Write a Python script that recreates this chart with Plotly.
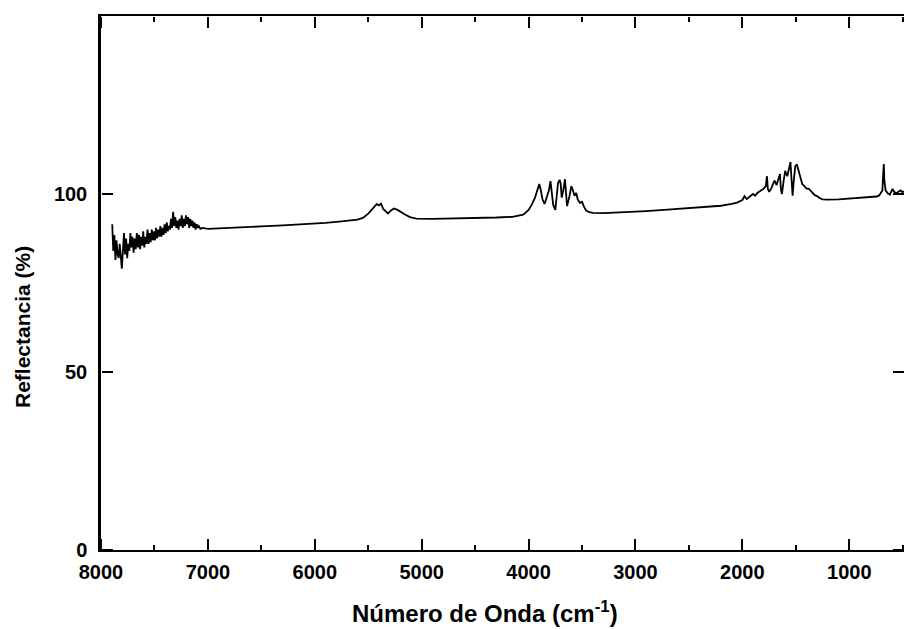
import plotly.graph_objects as go

# Reflectance spectrum: wavenumber (cm^-1) and reflectance (%)
wavenumber = [
    7895, 7885, 7875, 7865, 7855, 7845, 7835, 7825, 7815, 7805,
    7795, 7785, 7775, 7765, 7755, 7745, 7735, 7725, 7715, 7705,
    7695, 7685, 7675, 7665, 7655, 7645, 7635, 7625, 7615, 7605,
    7595, 7585, 7575, 7565, 7555, 7545, 7535, 7525, 7515, 7505,
    7495, 7485, 7475, 7465, 7455, 7445, 7435, 7425, 7415, 7405,
    7395, 7385, 7375, 7365, 7355, 7345, 7335, 7325, 7315, 7305,
    7295, 7285, 7275, 7265, 7255, 7245, 7235, 7225, 7215, 7205,
    7195, 7185, 7175, 7165, 7155, 7145, 7135, 7125, 7115, 7105,
    7095, 7085, 7070, 7050, 7000,
    6900, 6700, 6500, 6300, 6100, 5900, 5750, 5600, 5550, 5500,
    5450, 5420, 5400, 5380, 5360, 5340, 5315, 5290, 5260, 5230,
    5200, 5160, 5110, 5050, 4900, 4700, 4500, 4300, 4150, 4050,
    4000, 3970, 3940, 3920, 3900, 3885, 3870, 3850, 3830, 3810,
    3795, 3785, 3770, 3750, 3740, 3725, 3710, 3700, 3690, 3675,
    3660, 3650, 3640, 3620, 3600, 3585, 3570, 3555, 3540, 3520,
    3500, 3480, 3460, 3430, 3400, 3300, 3100, 2900, 2700, 2500,
    2300, 2200, 2100, 2050, 2000, 1980, 1960, 1930, 1900, 1880,
    1860, 1830, 1800, 1780, 1770, 1762, 1750, 1730, 1715, 1700,
    1680, 1660, 1648, 1640, 1630, 1615, 1600, 1580, 1560, 1550,
    1540, 1530, 1520, 1505, 1490, 1475, 1460, 1440, 1420, 1400,
    1380, 1360, 1340, 1320, 1300, 1280, 1250, 1200, 1100, 1000,
    900, 800, 745, 720, 690, 682, 677, 672, 667, 660,
    640, 620, 610, 595, 580, 560, 540, 520, 500, 488,
]
reflectance = [
    91.5, 84.0, 88.5, 81.5, 87.0, 83.0, 82.0, 86.0, 82.5, 79.0,
    84.0, 89.0, 83.0, 87.5, 82.0, 86.0, 84.0, 89.0, 85.0, 88.0,
    83.5, 87.5, 84.5, 89.0, 85.0, 88.5, 84.5, 88.0, 85.5, 89.5,
    85.0, 88.0, 86.0, 90.0, 86.0, 89.0, 86.5, 90.0, 87.0, 89.5,
    87.0, 90.5, 87.5, 90.0, 88.0, 91.0, 88.0, 90.5, 88.5, 91.5,
    89.0, 92.0, 89.5, 91.0, 90.0, 93.0, 90.5, 95.0, 91.0, 93.5,
    90.5, 92.5, 90.0, 93.0, 91.0, 94.0, 90.5, 93.0, 91.0, 94.0,
    91.5, 93.5, 90.5, 93.0, 91.0, 92.5, 90.5, 92.0, 90.0, 91.5,
    90.5, 91.0, 90.2, 90.5, 90.2,
    90.3, 90.6, 90.9, 91.2, 91.5, 91.9, 92.3, 92.8, 93.3, 94.5,
    96.2, 97.2, 96.8, 97.3, 95.8, 95.2, 94.5, 95.3, 95.9, 95.6,
    95.0, 94.3, 93.5, 93.1, 93.0, 93.1, 93.2, 93.4, 93.6, 94.2,
    95.5, 97.0, 99.0, 101.0, 102.8, 101.0, 98.5, 97.2, 99.5, 101.0,
    103.6, 100.0, 97.0, 95.5, 99.0, 103.0, 104.0, 103.0, 99.0, 101.0,
    104.2, 100.0, 96.6, 99.0, 102.2, 101.0, 99.5, 100.3, 98.5, 97.5,
    97.8, 96.3, 95.3, 94.9, 94.7, 94.6, 94.8, 95.2, 95.6, 96.0,
    96.4, 96.7, 97.2, 97.6, 98.3, 99.4, 98.6, 99.3, 100.0, 99.5,
    100.3, 100.9, 101.5, 102.3, 105.0, 101.5, 100.6, 101.5, 102.5, 103.8,
    102.5, 104.4, 105.6, 101.5, 100.0, 103.5, 106.5, 105.0, 107.5, 109.0,
    104.0, 99.5, 103.5, 107.8, 108.3, 106.5, 104.5, 102.8, 102.2, 101.5,
    101.5, 100.8, 100.2, 99.6, 99.4, 98.9, 98.5, 98.4, 98.5, 98.7,
    98.9, 99.1, 99.3, 99.6, 101.0, 106.0, 108.4, 104.0, 101.7, 101.0,
    100.2, 99.8, 100.5, 101.4, 100.6, 100.2, 100.6, 101.0, 100.5, 100.8,
]

x_range = [8000, 488]
y_range = [0, 150]
y_ticks = [0, 50, 100]

x_title = "Número de Onda (cm<sup>-1</sup>)"
y_title = "Reflectancia (%)"

FONT = "Liberation Sans, Arial, Helvetica, sans-serif"

fig = go.Figure()

# The spectrum on the main axes
fig.add_trace(go.Scatter(
    x=wavenumber, y=reflectance, mode="lines",
    line=dict(color="black", width=1.8),
    showlegend=False, hoverinfo="skip",
))

# Same series bound to the tick-only axes (transparent) so those axes render
for xa, ya in (("x2", "y2"), ("x3", "y3")):
    fig.add_trace(go.Scatter(
        x=wavenumber, y=reflectance, mode="lines",
        line=dict(color="rgba(0,0,0,0)", width=1),
        xaxis=xa, yaxis=ya,
        showlegend=False, hoverinfo="skip",
    ))

fig.update_layout(
    template="simple_white",
    width=904,
    height=629,
    margin=dict(l=101, r=0, t=16, b=79),
    paper_bgcolor="white",
    plot_bgcolor="white",
    font=dict(family=FONT, color="black", size=20, weight="bold"),
)

# Main axes: frame lines and tick labels
fig.update_layout(
    xaxis=dict(
        range=x_range,
        tickmode="linear", tick0=0, dtick=1000,
        ticks="",
        showline=True, linewidth=2, linecolor="black", mirror=True,
        showgrid=False, zeroline=False,
        tickfont=dict(size=20, weight="bold"),
        ticklabelstandoff=3,
    ),
    yaxis=dict(
        range=y_range,
        tickmode="array", tickvals=y_ticks,
        ticks="",
        showline=True, linewidth=2.5, linecolor="black",
        showgrid=False, zeroline=False,
        tickfont=dict(size=20, weight="bold"),
        ticklabelstandoff=7,
    ),
)

# Inward-pointing tick marks: free axes sitting on the frame edges,
# facing into the plot area
inner_x = dict(
    overlaying="x", anchor="free", range=x_range,
    tickmode="linear", tick0=0, dtick=1000,
    ticks="outside", ticklen=11, tickwidth=2, tickcolor="black",
    minor=dict(tickmode="linear", tick0=0, dtick=500, ticks="outside",
               ticklen=5, tickwidth=2, tickcolor="black", showgrid=False),
    showticklabels=False, showline=False, showgrid=False, zeroline=False,
)
inner_y = dict(
    overlaying="y", anchor="free", range=y_range,
    tickmode="array", tickvals=y_ticks,
    ticks="outside", ticklen=11, tickwidth=2, tickcolor="black",
    showticklabels=False, showline=False, showgrid=False, zeroline=False,
)
fig.update_layout(
    xaxis2=dict(inner_x, side="top", position=0),
    xaxis3=dict(inner_x, side="bottom", position=1),
    yaxis2=dict(inner_y, side="right", position=0),
    yaxis3=dict(inner_y, side="left", position=1),
)

# Axis titles placed as annotations in paper coordinates
fig.add_annotation(
    text=x_title,
    xref="paper", yref="paper",
    x=0.478, y=0,
    xanchor="center", yanchor="middle",
    yshift=-62,
    showarrow=False,
    font=dict(size=24, weight="bold"),
)
fig.add_annotation(
    text=y_title,
    xref="paper", yref="paper",
    x=0, y=0.4176,
    xanchor="center", yanchor="middle",
    xshift=-79,
    textangle=-90,
    showarrow=False,
    font=dict(size=21, weight="bold"),
)

fig.write_html("out.html")
